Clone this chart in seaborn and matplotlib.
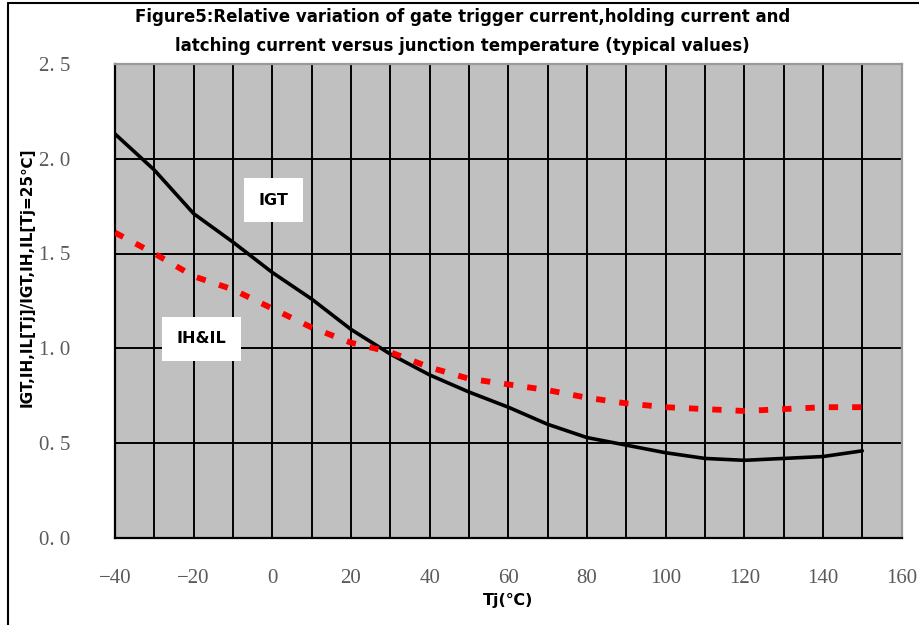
import numpy as np
import pandas as pd
import matplotlib
matplotlib.use("Agg")
import matplotlib.pyplot as plt
import seaborn as sns

# junction temperature (degC)
tj = [-40, -30, -20, -10, 0, 10, 20, 30, 40, 50, 60, 70, 80, 90, 100, 110, 120, 130, 140, 150]
# relative values
igt = [2.13, 1.94, 1.71, 1.56, 1.40, 1.26, 1.10, 0.97, 0.86, 0.77, 0.69, 0.60, 0.53, 0.49, 0.45, 0.42, 0.41, 0.42, 0.43, 0.46]
ih_il = [1.61, 1.50, 1.38, 1.31, 1.21, 1.11, 1.03, 0.98, 0.90, 0.84, 0.81, 0.78, 0.74, 0.71, 0.69, 0.68, 0.67, 0.68, 0.69, 0.69]

x_ticks = [-40, -20, 0, 20, 40, 60, 80, 100, 120, 140, 160]
y_ticks = [0.0, 0.5, 1.0, 1.5, 2.0, 2.5]
y_ticklabels = ["0. 0", "0. 5", "1. 0", "1. 5", "2. 0", "2. 5"]

df = pd.DataFrame({"tj": tj, "igt": igt, "ihil": ih_il})

sns.set_style("white")
plt.rcParams["text.color"] = "black"
plt.rcParams["axes.labelcolor"] = "black"

fig = plt.figure(figsize=(9.2, 6.25), dpi=100)
ax = fig.add_axes([0.125, 0.139, 0.855, 0.759])
ax.set_facecolor("#c0c0c0")

# grid: vertical every 10, horizontal every 0.5
for xv in range(-30, 160, 10):
    ax.axvline(xv, color="black", lw=1.4, zorder=1)
for yv in [0.5, 1.0, 1.5, 2.0]:
    ax.axhline(yv, color="black", lw=1.4, zorder=1)

sns.lineplot(data=df, x="tj", y="igt", ax=ax, color="black", lw=2.6, zorder=3)
sns.lineplot(data=df, x="tj", y="ihil", ax=ax, color="#ff0000", lw=4.2,
             linestyle=(0, (1.6, 2.4)), zorder=3)

ax.set_xlim(-40, 160)
ax.set_ylim(0, 2.5)
ax.set_xticks(x_ticks)
ax.set_xticklabels([str(v) if v >= 0 else "\u2212" + str(-v) for v in x_ticks])
ax.set_yticks(y_ticks)
ax.set_yticklabels(y_ticklabels)
ax.tick_params(axis="both", length=0, labelcolor="#5a5a5a", labelsize=15)
ax.tick_params(axis="y", pad=32)
ax.tick_params(axis="x", pad=22)
for lab in ax.get_xticklabels() + ax.get_yticklabels():
    lab.set_family("Liberation Serif")

for side in ["left", "bottom"]:
    ax.spines[side].set_color("black")
    ax.spines[side].set_linewidth(1.6)
for side in ["top", "right"]:
    ax.spines[side].set_color("#999999")
    ax.spines[side].set_linewidth(1.6)

ax.set_xlabel("Tj(\u2103)", fontsize=11.5, fontweight="bold", labelpad=4)
ax.set_ylabel("IGT,IH,IL[Tj]/IGT,IH,IL[Tj=25\u2103]", fontsize=11, fontweight="bold")
ax.yaxis.set_label_coords(-0.102, 0.55)

box = dict(boxstyle="square,pad=0.9", facecolor="white", edgecolor="none")
ax.text(0.3, 1.78, "IGT", fontsize=11.5, fontweight="bold", ha="center", va="center", bbox=box, zorder=4)
ax.text(-18, 1.05, "IH&IL", fontsize=11.5, fontweight="bold", ha="center", va="center", bbox=box, zorder=4)

fig.text(0.503, 0.972, "Figure5:Relative variation of gate trigger current,holding current and",
         ha="center", va="center", fontsize=12, fontweight="bold")
fig.text(0.503, 0.927, "latching current versus junction temperature (typical values)",
         ha="center", va="center", fontsize=12, fontweight="bold")

# outer frame of the original picture
fig.add_artist(plt.Line2D([0.009, 0.009], [0, 0.995], color="black", lw=1.5, transform=fig.transFigure))
fig.add_artist(plt.Line2D([0.009, 1.0], [0.995, 0.995], color="black", lw=1.5, transform=fig.transFigure))

fig.savefig("out.png", dpi=100)
